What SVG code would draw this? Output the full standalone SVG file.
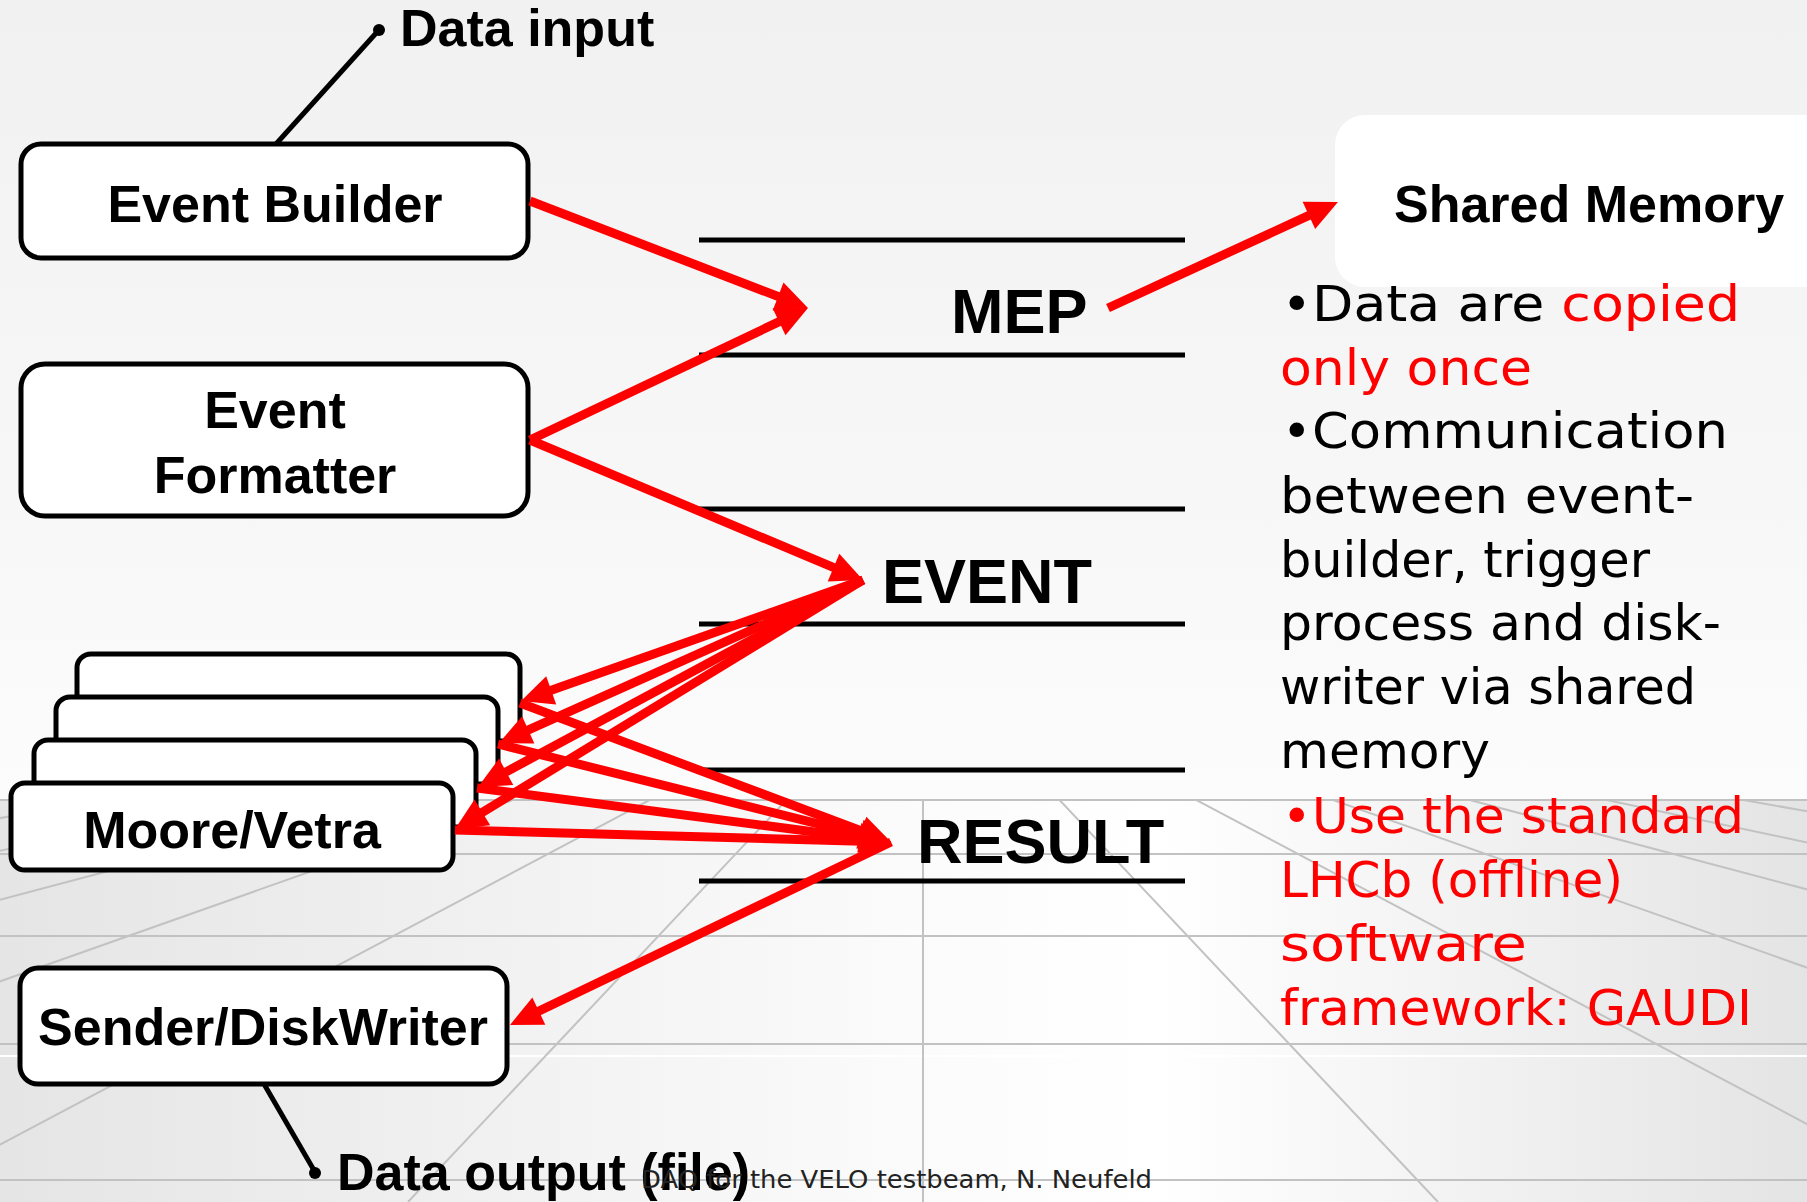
<svg xmlns="http://www.w3.org/2000/svg" width="1807" height="1202" viewBox="0 0 1807 1202">
  <defs>
    <linearGradient id="bgTop" x1="0" y1="0" x2="0" y2="800" gradientUnits="userSpaceOnUse">
      <stop offset="0" stop-color="#f1f1f1"/>
      <stop offset="0.6" stop-color="#f7f7f7"/>
      <stop offset="1" stop-color="#fcfcfc"/>
    </linearGradient>
    <linearGradient id="bgFloor" x1="0" y1="0" x2="1807" y2="0" gradientUnits="userSpaceOnUse">
      <stop offset="0" stop-color="#e5e5e5"/>
      <stop offset="0.5" stop-color="#fbfbfb"/>
      <stop offset="0.64" stop-color="#ffffff"/>
      <stop offset="1" stop-color="#e4e4e4"/>
    </linearGradient>
    <clipPath id="floorClip">
      <rect x="0" y="799" width="1807" height="403"/>
    </clipPath>
    <marker id="ah" markerUnits="userSpaceOnUse" viewBox="0 0 32 30" markerWidth="32" markerHeight="30" refX="12" refY="15" orient="auto" overflow="visible">
      <path d="M0,0 L32,15 L0,30 z" fill="#ff0000"/>
    </marker>
    <style>
      .box { fill: #ffffff; stroke: #000000; stroke-width: 5; }
      .lbl { font-family: "Liberation Sans", Arial, sans-serif; font-weight: bold; font-size: 52px; fill: #000000; }
      .buf { stroke: #000000; stroke-width: 5; }
      .buflbl { font-family: "Liberation Sans", Arial, sans-serif; font-weight: bold; font-size: 63px; fill: #000000; }
      .arrow { stroke: #ff0000; stroke-width: 9; fill: none; marker-end: url(#ah); }
      .lead { stroke: #000000; stroke-width: 5; }
      .grid { stroke: #c2c2c2; stroke-width: 2; }
      .body { font-family: "DejaVu Sans", "Liberation Sans", sans-serif; font-size: 50px; fill: #000000; }
      .red { fill: #ff0000; }
      .foot { font-family: "DejaVu Sans", "Liberation Sans", sans-serif; font-size: 25px; fill: #222222; }
    </style>
  </defs>

  <!-- background -->
  <rect x="0" y="0" width="1807" height="800" fill="url(#bgTop)"/>
  <rect x="0" y="799" width="1807" height="403" fill="url(#bgFloor)"/>

  <!-- perspective floor grid -->
  <g id="floor-grid" clip-path="url(#floorClip)">
    <line class="grid" x1="0" y1="800" x2="1807" y2="800"/>
    <line class="grid" x1="0" y1="854" x2="1807" y2="854"/>
    <line class="grid" x1="0" y1="936" x2="1807" y2="936"/>
    <line class="grid" x1="0" y1="1044" x2="1807" y2="1044"/>
    <line x1="0" y1="1056" x2="1807" y2="1056" stroke="#ffffff" stroke-width="2"/>
    <line class="grid" x1="0" y1="1180" x2="1807" y2="1180"/>
    <line class="grid" x1="923" y1="655" x2="-2172" y2="1202"/>
    <line class="grid" x1="923" y1="655" x2="-1656" y2="1202"/>
    <line class="grid" x1="923" y1="655" x2="-1140" y2="1202"/>
    <line class="grid" x1="923" y1="655" x2="-624" y2="1202"/>
    <line class="grid" x1="923" y1="655" x2="-108" y2="1202"/>
    <line class="grid" x1="923" y1="655" x2="408" y2="1202"/>
    <line class="grid" x1="923" y1="655" x2="923" y2="1202"/>
    <line class="grid" x1="923" y1="655" x2="1438" y2="1202"/>
    <line class="grid" x1="923" y1="655" x2="1954" y2="1202"/>
    <line class="grid" x1="923" y1="655" x2="2470" y2="1202"/>
    <line class="grid" x1="923" y1="655" x2="2986" y2="1202"/>
    <line class="grid" x1="923" y1="655" x2="3502" y2="1202"/>
    <line class="grid" x1="923" y1="655" x2="4018" y2="1202"/>
  </g>

  <!-- shared memory buffers -->
  <g id="buffer-mep">
    <line class="buf" x1="699" y1="240" x2="1185" y2="240"/>
    <line class="buf" x1="699" y1="355" x2="1185" y2="355"/>
    <text class="buflbl" x="951" y="333">MEP</text>
  </g>
  <g id="buffer-event">
    <line class="buf" x1="699" y1="509" x2="1185" y2="509"/>
    <line class="buf" x1="699" y1="624" x2="1185" y2="624"/>
    <text class="buflbl" x="882" y="603">EVENT</text>
  </g>
  <g id="buffer-result">
    <line class="buf" x1="699" y1="770" x2="1185" y2="770"/>
    <line class="buf" x1="699" y1="881" x2="1185" y2="881"/>
    <text class="buflbl" x="917" y="863">RESULT</text>
  </g>

  <!-- shared memory panel -->
  <g id="shared-memory">
    <rect x="1335" y="115" width="520" height="172" rx="30" fill="#ffffff"/>
    <text class="lbl" x="1394" y="222">Shared Memory</text>
  </g>

  <!-- data in / out leads -->
  <g id="data-input">
    <line class="lead" x1="276" y1="144" x2="378" y2="31"/>
    <circle cx="379" cy="30" r="6" fill="#000000"/>
    <text class="lbl" x="400" y="46" font-size="51">Data input</text>
  </g>
  <g id="data-output">
    <line class="lead" x1="264" y1="1084" x2="315" y2="1172"/>
    <circle cx="315" cy="1173" r="6" fill="#000000"/>
    <text class="lbl" x="337" y="1190">Data output (file)</text>
  </g>

  <!-- processes -->
  <g id="event-builder">
    <rect class="box" x="21" y="144" width="507" height="114" rx="20"/>
    <text class="lbl" x="275" y="222" text-anchor="middle">Event Builder</text>
  </g>
  <g id="event-formatter">
    <rect class="box" x="21" y="364" width="507" height="152" rx="24"/>
    <text class="lbl" x="275" y="428" text-anchor="middle">Event</text>
    <text class="lbl" x="275" y="493" text-anchor="middle">Formatter</text>
  </g>
  <g id="moore-vetra">
    <rect class="box" x="77" y="654" width="443" height="87" rx="14"/>
    <rect class="box" x="56" y="697" width="442" height="87" rx="14"/>
    <rect class="box" x="34" y="740" width="442" height="87" rx="14"/>
    <rect class="box" x="11" y="783" width="442" height="87" rx="14"/>
    <text class="lbl" x="232" y="848" text-anchor="middle">Moore/Vetra</text>
  </g>
  <g id="sender-diskwriter">
    <rect class="box" x="20" y="968" width="487" height="116" rx="18"/>
    <text class="lbl" x="263" y="1045" text-anchor="middle">Sender/DiskWriter</text>
  </g>

  <!-- data flow -->
  <g id="connectors">
    <line class="arrow" x1="530" y1="201" x2="789.3" y2="300.8"/>
    <line class="arrow" x1="530" y1="440" x2="789.9" y2="316.6"/>
    <line class="arrow" x1="530" y1="440" x2="844.6" y2="572.2"/>
    <line class="arrow" x1="1108" y1="308" x2="1319.8" y2="210.4"/>
    <line class="arrow" x1="863" y1="580" x2="539.9" y2="694.3"/>
    <line class="arrow" x1="863" y1="580" x2="517.3" y2="734.8"/>
    <line class="arrow" x1="863" y1="580" x2="495.6" y2="777.5"/>
    <line class="arrow" x1="863" y1="580" x2="472.1" y2="818.6"/>
    <line class="arrow" x1="520" y1="703" x2="872.3" y2="835.0"/>
    <line class="arrow" x1="498" y1="744" x2="871.6" y2="837.2"/>
    <line class="arrow" x1="477" y1="788" x2="871.2" y2="839.4"/>
    <line class="arrow" x1="455" y1="830" x2="871.0" y2="841.4"/>
    <line class="arrow" x1="891" y1="842" x2="528.0" y2="1016.3"/>
  </g>

  <!-- notes -->
  <g id="notes">
    <text class="body" x="1282" y="321">•</text>
    <text class="body" x="1312" y="321" textLength="428" lengthAdjust="spacingAndGlyphs">Data are <tspan class="red">copied</tspan></text>
    <text class="body red" x="1280" y="385" textLength="252" lengthAdjust="spacingAndGlyphs">only once</text>
    <text class="body" x="1282" y="448">•</text>
    <text class="body" x="1312" y="448" textLength="416" lengthAdjust="spacingAndGlyphs">Communication</text>
    <text class="body" x="1280" y="513" textLength="414" lengthAdjust="spacingAndGlyphs">between event-</text>
    <text class="body" x="1280" y="577" textLength="370" lengthAdjust="spacingAndGlyphs">builder, trigger</text>
    <text class="body" x="1280" y="640" textLength="441" lengthAdjust="spacingAndGlyphs">process and disk-</text>
    <text class="body" x="1280" y="704" textLength="416" lengthAdjust="spacingAndGlyphs">writer via shared</text>
    <text class="body" x="1280" y="768" textLength="210" lengthAdjust="spacingAndGlyphs">memory</text>
    <text class="body red" x="1282" y="833">•</text>
    <text class="body red" x="1312" y="833" textLength="432" lengthAdjust="spacingAndGlyphs">Use the standard</text>
    <text class="body red" x="1280" y="897" textLength="343" lengthAdjust="spacingAndGlyphs">LHCb (offline)</text>
    <text class="body red" x="1280" y="961" textLength="247" lengthAdjust="spacingAndGlyphs">software</text>
    <text class="body red" x="1280" y="1025" textLength="472" lengthAdjust="spacingAndGlyphs">framework: GAUDI</text>
  </g>

  <!-- footer -->
  <text class="foot" x="641" y="1188" textLength="511" lengthAdjust="spacingAndGlyphs">DAQ for the VELO testbeam, N. Neufeld</text>
</svg>
